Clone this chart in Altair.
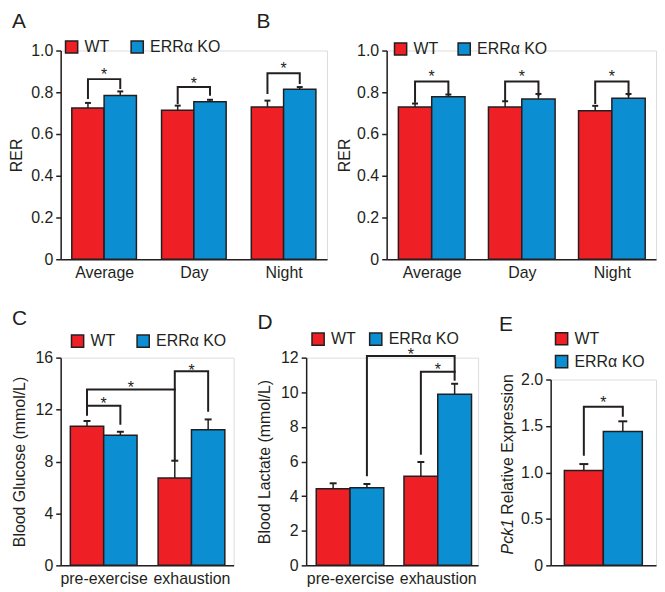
import altair as alt
import pandas as pd

RED = "#EE1F25"
BLUE = "#0B8FD2"
INK = "#231F20"
FONT = "Liberation Sans"
GROUPS = ["WT", "ERRα KO"]

# ---------------- data ----------------
# Panel A: RER
A_cats = ["Average", "Day", "Night"]
A_wt = [0.725, 0.714, 0.730]
A_wt_err = [0.024, 0.022, 0.030]
A_ko = [0.785, 0.755, 0.815]
A_ko_err = [0.019, 0.009, 0.010]
# brackets: (left cat, left group, left foot, right cat, right group, right foot, top)
A_brackets = [(0, 0, 0.772, 0, 1, 0.820, 0.863),
              (1, 0, 0.749, 1, 1, 0.788, 0.825),
              (2, 0, 0.796, 2, 1, 0.844, 0.891)]
A_stars = [0.90, 0.86, 0.93]

# Panel B: RER
B_cats = ["Average", "Day", "Night"]
B_wt = [0.730, 0.730, 0.711]
B_wt_err = [0.016, 0.027, 0.024]
B_ko = [0.778, 0.768, 0.771]
B_ko_err = [0.011, 0.024, 0.021]
B_brackets = [(0, 0, 0.754, 0, 1, 0.795, 0.852),
              (1, 0, 0.762, 1, 1, 0.786, 0.852),
              (2, 0, 0.748, 2, 1, 0.786, 0.852)]
B_stars = [0.89, 0.89, 0.89]

# Panel C: Blood glucose
C_cats = ["pre-exercise", "exhaustion"]
C_wt = [10.72, 6.73]
C_wt_err = [0.40, 1.33]
C_ko = [10.03, 10.44]
C_ko_err = [0.26, 0.80]
C_brackets = [(0, 0, 11.6, 0, 1, 10.9, 12.3),
              (0, 0, 12.3, 1, 0, 8.1, 13.55),
              (1, 0, 13.55, 1, 1, 11.9, 14.96)]
C_stars = [12.75, 14.0, 15.3]

# Panel D: Blood lactate
D_cats = ["pre-exercise", "exhaustion"]
D_wt = [4.42, 5.15]
D_wt_err = [0.32, 0.82]
D_ko = [4.49, 9.89]
D_ko_err = [0.21, 0.60]
D_brackets = [(0, 1, 5.21, 1, 1, 11.19, 12.1),
              (1, 0, 6.44, 1, 1, 10.72, 11.19)]
D_stars = [12.4, 11.5]

# Panel E: Pck1 expression
E_cats = [""]
E_wt = [1.02]
E_wt_err = [0.07]
E_ko = [1.44]
E_ko_err = [0.11]
E_brackets = [(0, 0, 1.19, 0, 1, 1.61, 1.707)]
E_stars = [1.79]


def one(d):
    return pd.DataFrame([d])


def panel(cats, wt, wt_err, ko, ko_err, brackets, stars, *, ydom, yvals,
          ylabel_expr, ytitle, xdom, bw, width, height, letter, letter_xy,
          legend_xy, legend_dir, legend_pad, cap, xlabels=True, title_pad=6):
    half = bw / 2
    rows = []
    for i, c in enumerate(cats):
        for g, (vals, errs) in enumerate([(wt, wt_err), (ko, ko_err)]):
            x0 = i - bw if g == 0 else i
            rows.append(dict(cat=c, group=GROUPS[g], x0=x0, x1=x0 + bw,
                             xc=x0 + half, value=vals[i],
                             top=vals[i] + errs[i], base=0))
    bars = pd.DataFrame(rows)

    def cx(c, g):
        return c - half if g == 0 else c + half

    brows, srows = [], []
    for k, (cl, gl, yl, cr, gr, yr, yt) in enumerate(brackets):
        xl, xr = cx(cl, gl), cx(cr, gr)
        for o, (xx, yy) in enumerate([(xl, yl), (xl, yt), (xr, yt), (xr, yr)]):
            brows.append(dict(bid=k, o=o, x=xx, y=yy))
        srows.append(dict(x=(xl + xr) / 2, y=stars[k]))
    bdf = pd.DataFrame(brows)
    sdf = pd.DataFrame(srows)

    xscale = alt.Scale(domain=xdom, nice=False, zero=False)
    yscale = alt.Scale(domain=ydom, nice=False, zero=True)
    arr = "[" + ",".join("'" + c + "'" for c in cats) + "]"
    xaxis = alt.Axis(values=list(range(len(cats))),
                     labelExpr=arr + "[datum.value]", labels=xlabels,
                     ticks=False, grid=False, domainColor=INK, domainWidth=1.5,
                     labelFontSize=16, labelFont=FONT, labelColor=INK,
                     labelPadding=5, title=None, labelFlush=False,
                     labelOverlap=False, labelBound=False)
    yaxis_kw = dict(values=yvals, grid=False, tickSize=5, tickWidth=1.5,
                    tickColor=INK, domainColor=INK, domainWidth=1.5,
                    labelFontSize=16, labelFont=FONT, labelColor=INK,
                    labelPadding=3, titleFontSize=16, titleFont=FONT,
                    titleFontWeight="normal", titleColor=INK,
                    titlePadding=title_pad, labelFlush=False, labelOverlap=False,
                    labelBound=False)
    if ylabel_expr:
        yaxis_kw["labelExpr"] = ylabel_expr
    yaxis = alt.Axis(title=ytitle, **yaxis_kw) if ytitle else alt.Axis(title=None, **yaxis_kw)

    def X(f):
        return alt.X(f, type="quantitative", scale=xscale, axis=xaxis)

    def Y(f):
        return alt.Y(f, type="quantitative", scale=yscale, axis=yaxis)

    legend = alt.Legend(title=None, orient="none", legendX=legend_xy[0],
                        legendY=legend_xy[1], direction=legend_dir,
                        symbolType="square", symbolSize=150,
                        symbolStrokeColor=INK, symbolStrokeWidth=1.5,
                        symbolOpacity=1, labelFontSize=16, labelFont=FONT,
                        labelColor=INK, labelOffset=5, columnPadding=legend_pad,
                        rowPadding=3, padding=0)

    bar_l = alt.Chart(bars).mark_rect(stroke=INK, strokeWidth=1.5).encode(
        x=X("x0"), x2="x1", y=Y("value"), y2="base",
        color=alt.Color("group:N", scale=alt.Scale(domain=GROUPS, range=[RED, BLUE]),
                        legend=legend))
    err_l = alt.Chart(bars).mark_rule(color=INK, strokeWidth=1.5).encode(
        x=X("xc"), y=Y("value"), y2="top")
    cap_l = alt.Chart(bars).mark_tick(color=INK, orient="horizontal", size=cap,
                                      thickness=2, opacity=1).encode(
        x=X("xc"), y=Y("top"))
    brk_l = alt.Chart(bdf).mark_line(color=INK, strokeWidth=2, strokeJoin="miter",
                                     strokeCap="square").encode(
        x=X("x"), y=Y("y"), detail="bid:N", order="o:Q")
    star_l = alt.Chart(sdf).mark_text(text="*", fontSize=16, font=FONT, color=INK,
                                      baseline="middle", dy=4).encode(
        x=X("x"), y=Y("y"))
    let_l = alt.Chart(one({"t": letter})).mark_text(
        align="left", baseline="top", fontSize=21, font=FONT,
        color=INK).encode(x=alt.value(letter_xy[0]), y=alt.value(letter_xy[1]),
                          text="t:N")
    layers = [bar_l, err_l, cap_l, brk_l, star_l, let_l]
    return layers, (width, height)


def build(layers, size):
    return alt.layer(*layers).properties(width=size[0], height=size[1])


rer_labels = "datum.value == 0 ? '0' : format(datum.value, '.1f')"

A_layers, A_size = panel(A_cats, A_wt, A_wt_err, A_ko, A_ko_err, A_brackets, A_stars,
                         ydom=[0, 1.0], yvals=[0, 0.2, 0.4, 0.6, 0.8, 1.0],
                         ylabel_expr=rer_labels, ytitle="RER", title_pad=6,
                         xdom=[-0.484, 2.484], bw=0.36, width=268, height=210,
                         letter="A", letter_xy=(-49, -40), legend_xy=(3, -12),
                         legend_dir="horizontal", legend_pad=18, cap=6)
B_layers, B_size = panel(B_cats, B_wt, B_wt_err, B_ko, B_ko_err, B_brackets, B_stars,
                         ydom=[0, 1.0], yvals=[0, 0.2, 0.4, 0.6, 0.8, 1.0],
                         ylabel_expr=rer_labels, ytitle="RER", title_pad=4,
                         xdom=[-0.5, 2.49], bw=0.37, width=271, height=210,
                         letter="B", letter_xy=(-131, -40), legend_xy=(6, -10),
                         legend_dir="horizontal", legend_pad=16, cap=6)
C_layers, C_size = panel(C_cats, C_wt, C_wt_err, C_ko, C_ko_err, C_brackets, C_stars,
                         ydom=[0, 16], yvals=[0, 4, 8, 12, 16], ylabel_expr=None,
                         ytitle="Blood Glucose (mmol/L)", title_pad=8,
                         xdom=[-0.49, 1.48], bw=0.38, width=174, height=209,
                         letter="C", letter_xy=(-49, -50), legend_xy=(9, -25),
                         legend_dir="horizontal", legend_pad=18, cap=7)
D_layers, D_size = panel(D_cats, D_wt, D_wt_err, D_ko, D_ko_err, D_brackets, D_stars,
                         ydom=[0, 12], yvals=[0, 2, 4, 6, 8, 10, 12], ylabel_expr=None,
                         ytitle="Blood Lactate (mmol/L)", title_pad=8,
                         xdom=[-0.5, 1.46], bw=0.385, width=173, height=209,
                         letter="D", letter_xy=(-49, -46), legend_xy=(4, -27),
                         legend_dir="horizontal", legend_pad=10, cap=7)
E_layers, E_size = panel(E_cats, E_wt, E_wt_err, E_ko, E_ko_err, E_brackets, E_stars,
                         ydom=[0, 2.0], yvals=[0, 0.5, 1.0, 1.5, 2.0],
                         ylabel_expr=rer_labels, ytitle=None,
                         xdom=[-1, 1], bw=0.74, width=106, height=187,
                         letter="E", letter_xy=(-52, -66), legend_xy=(3, -49),
                         legend_dir="vertical", legend_pad=10, cap=9, xlabels=False)

# italic gene name in the E axis title
E_t1 = alt.Chart(one({"t": "Pck1"})).mark_text(
    align="left", baseline="middle", angle=270, fontSize=16, font=FONT,
    fontStyle="italic", color=INK).encode(x=alt.value(-43), y=alt.value(176), text="t:N")
E_t2 = alt.Chart(one({"t": "Relative Expression"})).mark_text(
    align="left", baseline="middle", angle=270, fontSize=16, font=FONT,
    color=INK).encode(x=alt.value(-43), y=alt.value(136), text="t:N")
E_layers += [E_t1, E_t2]

A = build(A_layers, A_size)
B = build(B_layers, B_size)
C = build(C_layers, C_size)
D = build(D_layers, D_size)
E = build(E_layers, E_size)

spacer = alt.Chart(one({"a": 0})).mark_point(opacity=0).properties(width=106, height=22)


def indep(ch):
    return ch.resolve_scale(x="independent", y="independent", color="independent") \
             .resolve_legend(color="independent") \
             .resolve_axis(x="independent", y="independent")


Ecol = indep(alt.vconcat(spacer, E, spacing=0, bounds="flush"))
top = indep(alt.hconcat(A, B, spacing=60, bounds="flush"))
bottom = indep(alt.hconcat(C, D, Ecol, spacing=73, bounds="flush"))
chart = indep(alt.vconcat(top, bottom, spacing=26)).properties(
    padding={"left": 0, "right": 0, "top": 0, "bottom": 0}
).configure_view(stroke=None).configure(background="white")

chart.save("out.html", embed_options={"renderer": "svg", "actions": False})
